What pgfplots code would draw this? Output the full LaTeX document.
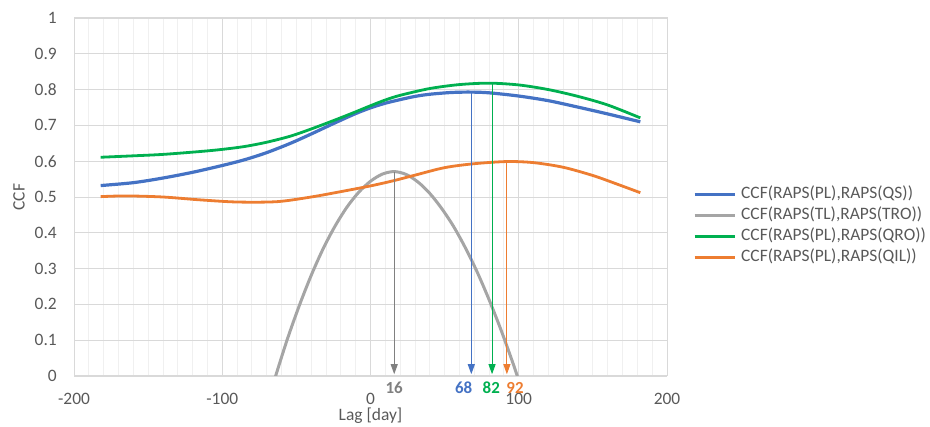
\documentclass[border=0pt]{standalone}
\usepackage{fontspec}
\setmainfont{Carlito}
\usepackage{pgfplots}
\pgfplotsset{compat=1.18}
\usetikzlibrary{arrows.meta}
\definecolor{cblue}{HTML}{4472C4}
\definecolor{corange}{HTML}{ED7D31}
\definecolor{cgray}{HTML}{A5A5A5}
\definecolor{cgreen}{HTML}{00B050}
\definecolor{ctext}{HTML}{595959}
\definecolor{carrow}{HTML}{808080}
\definecolor{gmaj}{HTML}{D9D9D9}
\definecolor{gmin}{HTML}{F0F0F0}
\begin{document}
\begin{tikzpicture}
\useasboundingbox (0,0) rectangle (930bp,427bp);
\begin{axis}[
  at={(74bp,51bp)}, anchor=south west,
  scale only axis, width=593bp, height=358bp,
  xmin=-200, xmax=200, ymin=0, ymax=1,
  xtick={-200,-100,0,100,200}, minor x tick num=9,
  ytick={0,0.1,0.2,0.3,0.4,0.5,0.6,0.7,0.8,0.9,1},
  grid=both,
  major grid style={draw=gmaj, line width=0.9bp},
  minor grid style={draw=gmin, line width=0.9bp},
  axis line style={draw=gmaj, line width=1bp},
  major tick length=0pt, minor tick length=0pt,
  tick style={draw=none},
  /pgf/number format/assume math mode=true,
  /pgf/number format/fixed,
  /pgf/number format/precision=1,
  tick label style={font=\fontsize{17.5}{20}\selectfont, text=ctext, inner sep=0pt},
  xticklabel style={anchor=center, yshift=-23bp},
  yticklabel style={anchor=east, xshift=-17bp},
  xlabel={Lag [day]}, ylabel={CCF},
  label style={font=\fontsize{17.5}{20}\selectfont, text=ctext},
  xlabel style={at={(axis description cs:0.5,-0.112)}, anchor=center},
  ylabel style={at={(axis description cs:-0.0927,0.5)}, anchor=center},
  clip mode=individual,
  legend cell align=left,
  legend style={draw=none, fill=none, inner sep=0pt, outer sep=0pt,
    at={(axis description cs:1.0438,0.42)}, anchor=west,
    font=\fontsize{17.5}{20}\selectfont, text=ctext,
    row sep=5bp,
    nodes={inner sep=0pt, text height=12bp, text depth=4bp},
    /tikz/every odd column/.append style={column sep=5bp}},
  legend image code/.code={\draw[#1] (0bp,0bp) -- (40bp,0bp);},
]
\addplot[cblue, line width=3.2bp, smooth] coordinates {
(-182,0.532) (-160,0.540) (-140,0.553) (-120,0.569) (-100,0.588) (-85,0.604)
(-70,0.624) (-54,0.650) (-40,0.676) (-24,0.707) (-10,0.733) (0,0.749) (10,0.762)
(20,0.772) (30,0.781) (40,0.787) (55,0.792) (68,0.793) (80,0.791) (100,0.782)
(120,0.769) (140,0.751) (160,0.732) (182,0.710)};
\addlegendentry{CCF(RAPS(PL),RAPS(QS))}
\addplot[cgray, line width=3bp, smooth] coordinates {
(-68,-0.055) (-64,0) (-56,0.104) (-48,0.197) (-40,0.281) (-32,0.355) (-24,0.418)
(-16,0.471) (-8,0.513) (0,0.544) (8,0.564) (16,0.571) (24,0.563) (32,0.542)
(40,0.510) (48,0.468) (56,0.418) (64,0.358) (72,0.290) (80,0.213) (88,0.129)
(96,0.037) (99,0) (103,-0.05)};
\addlegendentry{CCF(RAPS(TL),RAPS(TRO))}
\addplot[cgreen, line width=2.8bp, smooth] coordinates {
(-182,0.611) (-160,0.615) (-140,0.619) (-115,0.627) (-100,0.633) (-85,0.641)
(-70,0.653) (-54,0.670) (-40,0.690) (-24,0.715) (-10,0.738) (0,0.755) (10,0.771)
(20,0.784) (40,0.803) (60,0.814) (80,0.818) (100,0.813) (120,0.800) (140,0.781)
(160,0.757) (182,0.721)};
\addlegendentry{CCF(RAPS(PL),RAPS(QRO))}
\addplot[corange, line width=2.8bp, smooth] coordinates {
(-182,0.501) (-165,0.503) (-140,0.500) (-115,0.492) (-90,0.486) (-63,0.487)
(-40,0.500) (-20,0.515) (0,0.531) (15,0.545) (30,0.561) (50,0.582) (70,0.593)
(92,0.599) (110,0.596) (130,0.583) (150,0.560) (165,0.538) (182,0.512)};
\addlegendentry{CCF(RAPS(PL),RAPS(QIL))}
% arrows marking the peaks
\addplot[forget plot, carrow, line width=0.9bp, -{Triangle[width=7bp,length=10bp]}] coordinates {(16,0.571) (16,0.005)};
\addplot[forget plot, cblue, line width=0.9bp, -{Triangle[width=7bp,length=10bp]}] coordinates {(68,0.793) (68,0.005)};
\addplot[forget plot, cgreen, line width=0.9bp, -{Triangle[width=7bp,length=10bp]}] coordinates {(82,0.818) (82,0.005)};
\addplot[forget plot, corange, line width=0.9bp, -{Triangle[width=7bp,length=10bp]}] coordinates {(92,0.599) (92,0.005)};
\node[font=\bfseries\fontsize{17}{20}\selectfont, text=carrow, anchor=center, inner sep=0pt] at (axis cs:16,0) [yshift=-12bp] {16};
\node[font=\bfseries\fontsize{17}{20}\selectfont, text=cblue, anchor=center, inner sep=0pt] at (axis cs:62.8,0) [yshift=-12bp] {68};
\node[font=\bfseries\fontsize{17}{20}\selectfont, text=cgreen, anchor=center, inner sep=0pt] at (axis cs:81.5,0) [yshift=-12bp] {82};
\node[font=\bfseries\fontsize{17}{20}\selectfont, text=corange, anchor=center, inner sep=0pt] at (axis cs:97.5,0) [yshift=-12bp] {92};
\end{axis}
\end{tikzpicture}
\end{document}
